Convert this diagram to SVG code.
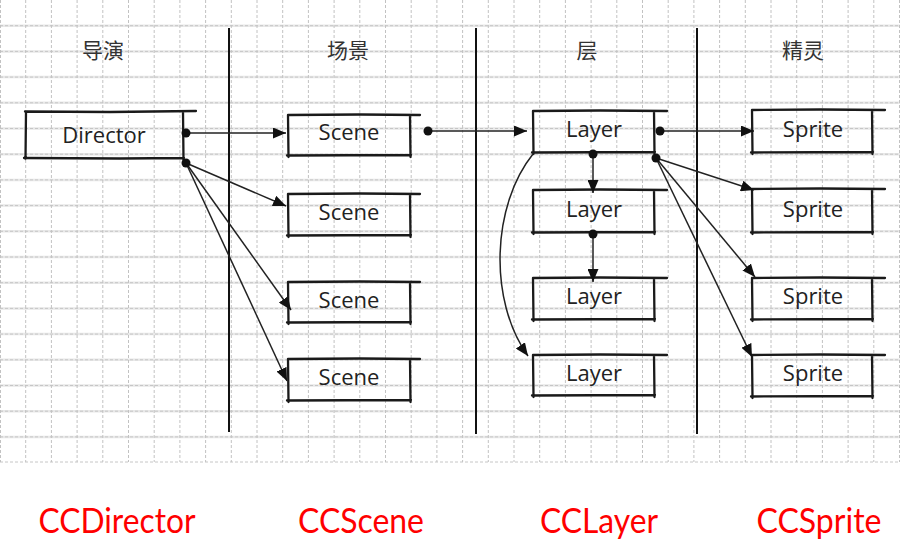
<svg xmlns="http://www.w3.org/2000/svg" width="900" height="549" viewBox="0 0 900 549">
<style>
.gv{stroke:#c2c2c2;stroke-width:1;stroke-dasharray:3 2;fill:none}
.gh{stroke:#e8e8e8;stroke-width:2.5;fill:none}
.ghd{stroke:#c6c6c6;stroke-width:1;stroke-dasharray:3 2;fill:none}
.sep{stroke:#111;stroke-width:2;fill:none}
.box{stroke:#1a1a1a;stroke-width:2.3;fill:none;stroke-linecap:round}
.lbl{font-family:"Open Sans","Noto Sans",sans-serif;font-size:22px;fill:#222;text-anchor:middle}
.hd{font-family:"Noto Sans CJK SC","Noto Sans",sans-serif;font-size:21px;fill:#333;text-anchor:middle}
.red{font-family:Lato,"Liberation Sans",sans-serif;font-size:34px;fill:#ff0000;text-anchor:middle}
.arr{stroke:#222;stroke-width:1.5;fill:none;marker-end:url(#ah)}
.dot{fill:#111}
</style>
<defs>
<marker id="ah" markerUnits="userSpaceOnUse" markerWidth="14" markerHeight="11" refX="13" refY="5.5" orient="auto">
<path d="M0,0 L13,5.5 L0,11 z" fill="#111"/>
</marker>
</defs>
<rect x="0" y="0" width="900" height="549" fill="#fff"/>
<g id="grid">
<path class="gh" d="M0 25.7H900M0 51.4H900M0 77.1H900M0 102.8H900M0 128.5H900M0 154.2H900M0 179.9H900M0 205.6H900M0 231.3H900M0 257H900M0 282.7H900M0 308.4H900M0 334.1H900M0 359.8H900M0 385.5H900M0 411.2H900M0 436.9H900"/>
<path class="ghd" d="M0 25.7H900M0 51.4H900M0 77.1H900M0 102.8H900M0 128.5H900M0 154.2H900M0 179.9H900M0 205.6H900M0 231.3H900M0 257H900M0 282.7H900M0 308.4H900M0 334.1H900M0 359.8H900M0 385.5H900M0 411.2H900M0 436.9H900M0 462H900"/>
<path class="gv" d="M0.5 0V462M25.7 0V462M51.4 0V462M77.1 0V462M102.8 0V462M128.5 0V462M154.2 0V462M179.9 0V462M205.6 0V462M231.3 0V462M257 0V462M282.7 0V462M308.4 0V462M334.1 0V462M359.8 0V462M385.5 0V462M411.2 0V462M436.9 0V462M462.6 0V462M488.3 0V462M514 0V462M539.7 0V462M565.4 0V462M591.1 0V462M616.8 0V462M642.5 0V462M668.2 0V462M693.9 0V462M719.6 0V462M745.3 0V462M771 0V462M796.7 0V462M822.4 0V462M848.1 0V462M873.8 0V462M899.5 0V462"/>
</g>
<g id="separators">
<path class="sep" d="M229 28V432M476 28V434M697 28V434"/>
</g>
<g id="headers">
<text class="hd" x="103" y="58">导演</text>
<text class="hd" x="348" y="58">场景</text>
<text class="hd" x="587" y="58">层</text>
<text class="hd" x="803" y="58">精灵</text>
</g>
<g id="director">
<path class="box" d="M25 111.5L110 112L196 111M26 112L25.5 159M24 158L120 158.5L184 158M183 112L183.5 160"/>
<text class="lbl" x="104" y="143">Director</text>
</g>
<g id="scene1">
<path class="box" d="M288 115L360 114.5L420 115M288 115L288.5 157M287 155.5L411 155M410 115L410.5 157"/>
<text class="lbl" x="349" y="140">Scene</text>
</g>
<g id="scene2">
<path class="box" d="M288 194L360 193.5L420 194M288 194L288.5 237M287 235.5L411 235M410 194L410.5 237"/>
<text class="lbl" x="349" y="220">Scene</text>
</g>
<g id="scene3">
<path class="box" d="M288 282L360 281.5L420 282M288 282L288.5 324M287 322.5L411 322M410 282L410.5 324"/>
<text class="lbl" x="349" y="308">Scene</text>
</g>
<g id="scene4">
<path class="box" d="M288 359L360 358.5L420 359M288 359L288.5 402M287 400.5L411 400M410 359L410.5 402"/>
<text class="lbl" x="349" y="385">Scene</text>
</g>
<g id="layer1">
<path class="box" d="M533 111L600 110.5L667 111M533 111L533.5 154M532 152.5L655 152M654 111L654.5 154"/>
<text class="lbl" x="594" y="137">Layer</text>
</g>
<g id="layer2">
<path class="box" d="M533 190L600 189.5L667 190M533 190L533.5 234M532 232.5L655 232M654 190L654.5 234"/>
<text class="lbl" x="594" y="217">Layer</text>
</g>
<g id="layer3">
<path class="box" d="M533 278L600 277.5L667 278M533 278L533.5 321M532 319.5L655 319M654 278L654.5 321"/>
<text class="lbl" x="594" y="304">Layer</text>
</g>
<g id="layer4">
<path class="box" d="M533 355L600 354.5L667 355M533 355L533.5 397M532 395.5L655 395M654 355L654.5 397"/>
<text class="lbl" x="594" y="381">Layer</text>
</g>
<g id="sprite1">
<path class="box" d="M752 110L820 109.5L885 110M752 110L752.5 154M751 152.5L873 152M872 110L872.5 154"/>
<text class="lbl" x="813" y="137">Sprite</text>
</g>
<g id="sprite2">
<path class="box" d="M752 189L820 188.5L885 189M752 189L752.5 234M751 232.5L873 232M872 189L872.5 234"/>
<text class="lbl" x="813" y="217">Sprite</text>
</g>
<g id="sprite3">
<path class="box" d="M752 278L820 277.5L885 278M752 278L752.5 321M751 319.5L873 319M872 278L872.5 321"/>
<text class="lbl" x="813" y="304">Sprite</text>
</g>
<g id="sprite4">
<path class="box" d="M752 355L820 354.5L885 355M752 355L752.5 398M751 396.5L873 396M872 355L872.5 398"/>
<text class="lbl" x="813" y="381">Sprite</text>
</g>
<g id="connectors">
<path class="arr" d="M186 133H286"/>
<path class="arr" d="M186 163L286 206"/>
<path class="arr" d="M186 163L291 310"/>
<path class="arr" d="M186 163L287 381"/>
<path class="arr" d="M428 131H527"/>
<path class="arr" d="M593 153V193"/>
<path class="arr" d="M593 234V282"/>
<path class="arr" d="M533 154C492 205 488 300 528 356"/>
<path class="arr" d="M660 131H754"/>
<path class="arr" d="M656 158L754 190"/>
<path class="arr" d="M656 158L755 277"/>
<path class="arr" d="M656 158L752 357"/>
<circle class="dot" cx="186" cy="133" r="4.5"/>
<circle class="dot" cx="186" cy="163" r="4.5"/>
<circle class="dot" cx="428" cy="131" r="4.5"/>
<circle class="dot" cx="593" cy="154" r="4.5"/>
<circle class="dot" cx="593" cy="234" r="4.5"/>
<circle class="dot" cx="660" cy="131" r="4.5"/>
<circle class="dot" cx="656" cy="158" r="4.5"/>
</g>
<g id="classnames">
<text class="red" x="117" y="533" textLength="157" lengthAdjust="spacingAndGlyphs">CCDirector</text>
<text class="red" x="361" y="533" textLength="126" lengthAdjust="spacingAndGlyphs">CCScene</text>
<text class="red" x="599" y="533" textLength="118" lengthAdjust="spacingAndGlyphs">CCLayer</text>
<text class="red" x="819" y="533" textLength="125" lengthAdjust="spacingAndGlyphs">CCSprite</text>
</g>
</svg>
